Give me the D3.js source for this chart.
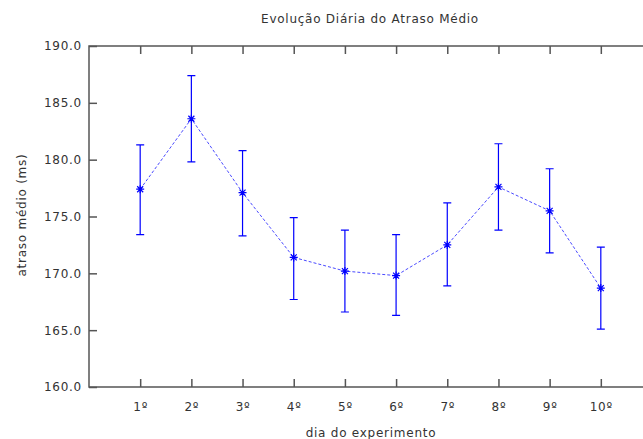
<!DOCTYPE html>
<html>
<head>
<meta charset="utf-8">
<script src="https://cdn.jsdelivr.net/npm/d3@7"></script>
<style>
  html, body { margin: 0; padding: 0; background: #fff; }
  svg { display: block; }
  text { font-family: "DejaVu Sans", sans-serif; fill: #333; letter-spacing: 0.75px; }
</style>
</head>
<body>
<svg id="chart" width="643" height="439"></svg>
<script>
// Daily mean delay with error bars (ms)
const days = ["1º", "2º", "3º", "4º", "5º", "6º", "7º", "8º", "9º", "10º"];
const meanDelay = [177.4, 183.6, 177.1, 171.4, 170.2, 169.8, 172.5, 177.6, 175.5, 168.7];
const lowDelay  = [173.4, 179.8, 173.3, 167.7, 166.6, 166.3, 168.9, 173.8, 171.8, 165.1];
const highDelay = [181.3, 187.4, 180.8, 174.9, 173.8, 173.4, 176.2, 181.4, 179.2, 172.3];
const yTicks = [160, 165, 170, 175, 180, 185, 190];

(function () {
  const svg = d3.select("#chart");
  const mLeft = 89, mTop = 46, mBottom = 387, mRight = 652;

  const x = d3.scaleLinear().domain([0, days.length + 1]).range([mLeft, mRight]);
  const y = d3.scaleLinear().domain([160, 190]).range([mBottom, mTop]);

  const axisColor = "#555";

  // frame
  svg.append("path")
    .attr("d", `M${mRight},${mTop}H${mLeft}V${mBottom}H${mRight}`)
    .attr("fill", "none").attr("stroke", axisColor).attr("stroke-width", 1.5);

  // y axis ticks (inward) and labels
  const yAxis = svg.append("g").attr("transform", `translate(${mLeft},0)`)
    .call(d3.axisLeft(y).tickValues(yTicks).tickFormat(d3.format(".1f")).tickSize(-8).tickPadding(7));
  yAxis.select(".domain").remove();
  yAxis.selectAll("line").attr("stroke", axisColor).attr("stroke-width", 1.5);
  yAxis.selectAll("text").attr("font-size", 12).attr("fill", "#333").attr("font-family", "DejaVu Sans");

  // x axis ticks (inward on bottom and top) and labels
  const idx = d3.range(1, days.length + 1);
  const xAxis = svg.append("g").attr("transform", `translate(0,${mBottom})`)
    .call(d3.axisBottom(x).tickValues(idx).tickFormat(i => days[i - 1]).tickSize(-8).tickPadding(15));
  xAxis.select(".domain").remove();
  xAxis.selectAll("line").attr("stroke", axisColor).attr("stroke-width", 1.5);
  xAxis.selectAll("text").attr("font-size", 12).attr("fill", "#333").attr("font-family", "DejaVu Sans");

  const xTop = svg.append("g").attr("transform", `translate(0,${mTop})`)
    .call(d3.axisTop(x).tickValues(idx).tickFormat("").tickSize(-8));
  xTop.select(".domain").remove();
  xTop.selectAll("line").attr("stroke", axisColor).attr("stroke-width", 1.5);

  // error bars
  const eb = svg.append("g").attr("stroke", "#0000ff").attr("stroke-width", 1.2).attr("fill", "none");
  meanDelay.forEach((m, i) => {
    const cx = x(i + 1);
    eb.append("path").attr("d",
      `M${cx},${y(lowDelay[i])}V${y(highDelay[i])}` +
      `M${cx - 4},${y(highDelay[i])}H${cx + 4}` +
      `M${cx - 4},${y(lowDelay[i])}H${cx + 4}`);
  });

  // dashed connecting line
  const line = d3.line().x((d, i) => x(i + 1)).y(d => y(d));
  svg.append("path").datum(meanDelay)
    .attr("d", line).attr("fill", "none")
    .attr("stroke", "#4a4aff").attr("stroke-width", 1).attr("stroke-dasharray", "3,2");

  // asterisk markers
  const s = 4;
  const pts = svg.append("g").attr("stroke", "#0000ff").attr("stroke-width", 1.2);
  meanDelay.forEach((m, i) => {
    const cx = x(i + 1), cy = y(m);
    pts.append("path").attr("d",
      `M${cx - s},${cy}H${cx + s}M${cx},${cy - s}V${cy + s}` +
      `M${cx - s * 0.75},${cy - s * 0.75}L${cx + s * 0.75},${cy + s * 0.75}` +
      `M${cx - s * 0.75},${cy + s * 0.75}L${cx + s * 0.75},${cy - s * 0.75}`);
  });

  // titles
  svg.append("text").attr("x", 370).attr("y", 23).attr("text-anchor", "middle")
    .attr("font-size", 12).text("Evolução Diária do Atraso Médio");
  svg.append("text").attr("x", 371).attr("y", 437).attr("text-anchor", "middle")
    .attr("font-size", 12).text("dia do experimento");
  svg.append("text").attr("transform", "translate(26,215) rotate(-90)").attr("text-anchor", "middle")
    .attr("font-size", 12).text("atraso médio (ms)");
})();
</script>
</body>
</html>
